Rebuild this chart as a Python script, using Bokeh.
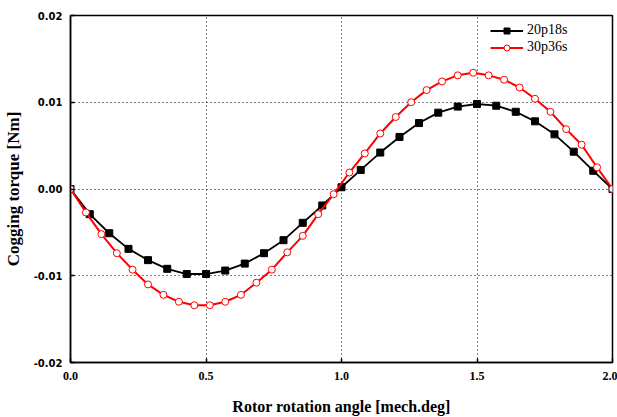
from bokeh.plotting import figure
from bokeh.models import FixedTicker, Legend, LegendItem, NumeralTickFormatter, Range1d
from bokeh.embed import file_html
from bokeh.resources import INLINE

# ---- data ----
angle_20p18s = [0.0, 0.071, 0.143, 0.214, 0.286, 0.357, 0.429, 0.5, 0.571, 0.643,
                0.714, 0.786, 0.857, 0.929, 1.0, 1.071, 1.143, 1.214, 1.286, 1.357,
                1.429, 1.5, 1.571, 1.643, 1.714, 1.786, 1.857, 1.929, 2.0]
torque_20p18s = [0.0, -0.0029, -0.0051, -0.0069, -0.0082, -0.0092, -0.0098, -0.0098,
                 -0.0094, -0.0086, -0.0074, -0.0059, -0.0039, -0.0019, 0.0002,
                 0.0022, 0.0042, 0.0060, 0.0076, 0.0088, 0.0095, 0.0098, 0.0096,
                 0.0089, 0.0078, 0.0063, 0.0043, 0.0021, 0.0]

angle_30p36s = [0.0, 0.057, 0.114, 0.171, 0.229, 0.286, 0.343, 0.4, 0.457, 0.514,
                0.571, 0.629, 0.686, 0.743, 0.8, 0.857, 0.914, 0.971, 1.029, 1.086,
                1.143, 1.2, 1.257, 1.314, 1.371, 1.429, 1.486, 1.543, 1.6, 1.657,
                1.714, 1.771, 1.829, 1.886, 1.943, 2.0]
torque_30p36s = [0.0, -0.0027, -0.0052, -0.0074, -0.0093, -0.0110, -0.0122, -0.0130,
                 -0.0134, -0.0134, -0.0130, -0.0122, -0.0108, -0.0093, -0.0073,
                 -0.0054, -0.0029, -0.0006, 0.0019, 0.0041, 0.0064, 0.0083, 0.0100,
                 0.0114, 0.0124, 0.0131, 0.0134, 0.0131, 0.0126, 0.0117, 0.0104,
                 0.0089, 0.0069, 0.0051, 0.0025, 0.0]

x_ticks = [0.0, 0.5, 1.0, 1.5, 2.0]
x_tick_labels = ["0.0", "0.5", "1.0", "1.5", "2.0"]
y_ticks = [-0.02, -0.01, 0.0, 0.01, 0.02]
y_tick_labels = ["-0.02", "-0.01", "0.00", "0.01", "0.02"]

series_names = ["20p18s", "30p36s"]
x_title = "Rotor rotation angle [mech.deg]"
y_title = "Cogging torque [Nm]"

SERIF = "Liberation Serif"

p = figure(width=617, height=417, output_backend="svg", toolbar_location=None,
           x_range=Range1d(0, 2), y_range=Range1d(-0.02, 0.02),
           min_border_left=69, min_border_right=5, min_border_top=15,
           min_border_bottom=55)
p.background_fill_color = "white"
p.border_fill_color = "white"
p.outline_line_color = "black"
p.outline_line_width = 1.5

# axes
p.xaxis.ticker = FixedTicker(ticks=x_ticks)
p.yaxis.ticker = FixedTicker(ticks=y_ticks)
p.xaxis.formatter = NumeralTickFormatter(format="0.0")
p.yaxis.formatter = NumeralTickFormatter(format="0.00")
p.xaxis.major_label_overrides = dict(zip(x_ticks, x_tick_labels))
p.yaxis.major_label_overrides = dict(zip(y_ticks, y_tick_labels))

for ax in (p.xaxis, p.yaxis):
    ax.axis_line_color = "black"
    ax.axis_line_width = 1.5
    ax.major_tick_in = 4
    ax.major_tick_out = 0
    ax.major_tick_line_color = "black"
    ax.major_tick_line_width = 1.5
    ax.minor_tick_line_color = None
    ax.axis_label_text_font = SERIF
    ax.axis_label_text_font_style = "bold"
    ax.axis_label_text_color = "black"

p.xaxis.axis_label = x_title
p.yaxis.axis_label = y_title
p.xaxis.axis_label_text_font_size = "16px"
p.yaxis.axis_label_text_font_size = "17px"
p.xaxis.major_label_text_font = SERIF
p.xaxis.major_label_text_font_style = "bold"
p.xaxis.major_label_text_font_size = "12px"
p.xaxis.major_label_standoff = 9
p.xaxis.axis_label_standoff = 15
p.yaxis.major_label_text_font = "DejaVu Sans"
p.yaxis.major_label_text_font_style = "bold"
p.yaxis.major_label_text_font_size = "10px"
p.yaxis.major_label_standoff = 8
p.yaxis.axis_label_standoff = 8
p.xaxis.major_label_text_color = "black"
p.yaxis.major_label_text_color = "black"

# grid
for g in (p.xgrid, p.ygrid):
    g.grid_line_color = "black"
    g.grid_line_dash = "1 3"
    g.grid_line_width = 1

# series
l1 = p.line(angle_20p18s, torque_20p18s, line_color="black", line_width=1.8)
s1 = p.scatter(angle_20p18s, torque_20p18s, marker="square", size=7,
               fill_color="black", line_color="black")
l2 = p.line(angle_30p36s, torque_30p36s, line_color="#ff0000", line_width=2)
s2 = p.scatter(angle_30p36s, torque_30p36s, marker="circle", size=7,
               fill_color="white", line_color="#ff0000", line_width=1)

legend = Legend(items=[LegendItem(label=series_names[0], renderers=[l1, s1]),
                       LegendItem(label=series_names[1], renderers=[l2, s2])],
                location=(415, 302), padding=5, spacing=1,
                glyph_width=33, glyph_height=15, label_height=15,
                label_standoff=4, label_text_font=SERIF,
                label_text_font_size="14px", label_text_color="black",
                border_line_alpha=0, background_fill_alpha=0)
p.add_layout(legend)

open("out.html", "w").write(file_html(p, INLINE))
